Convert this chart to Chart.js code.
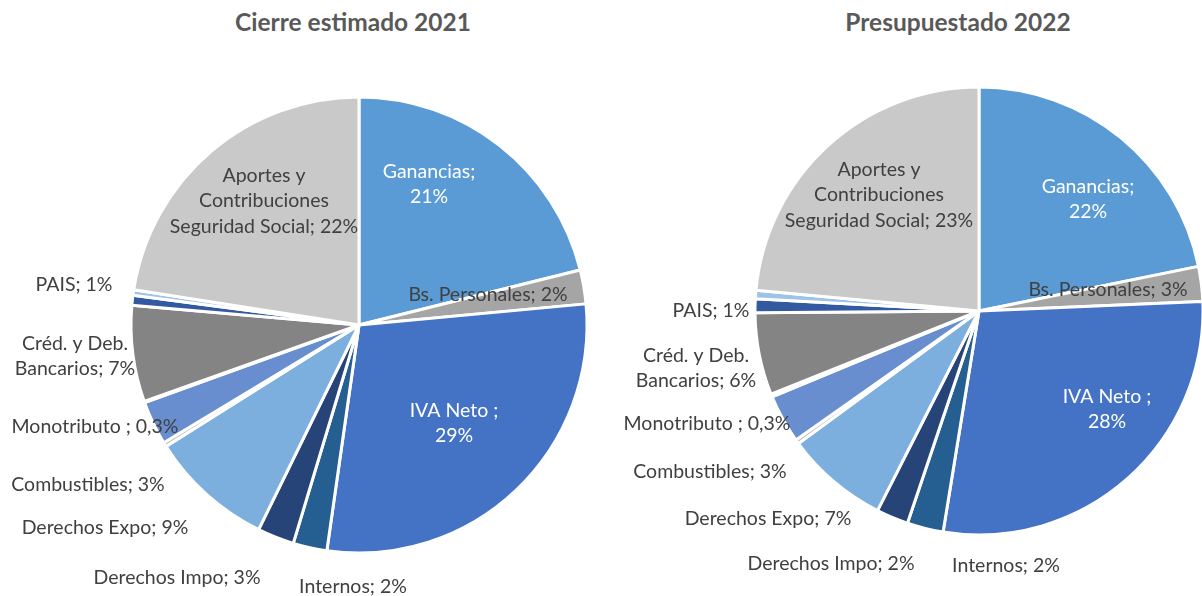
<!DOCTYPE html>
<html><head><meta charset="utf-8">
<script src="https://cdn.jsdelivr.net/npm/chart.js@4"></script>
<style>
html,body{margin:0;padding:0;background:#fff;}
#wrap{position:relative;width:1202px;height:596px;overflow:hidden;}
canvas{position:absolute;top:0;}
.title{position:absolute;top:0;font-family:Lato,"Open Sans",sans-serif;font-weight:bold;font-size:24.5px;color:#595959;white-space:nowrap;transform:translateX(-50%);line-height:44px;}
</style></head>
<body><div id="wrap">
<div class="title" style="left:353px">Cierre estimado 2021</div>
<div class="title" style="left:958px">Presupuestado 2022</div>
<canvas id="c1" width="601" height="596" style="left:0"></canvas>
<canvas id="c2" width="601" height="596" style="left:601px"></canvas>
</div>
<script>
// ---- data ----
const categories = ['Ganancias','Bs. Personales','IVA Neto ','Internos','Derechos Impo','Derechos Expo','Monotributo ','Combustibles','Otros','Créd. y Deb. Bancarios','PAIS','Otros 2','Aportes y Contribuciones Seguridad Social'];
const values2021 = [21.1, 2.4, 28.7, 2.4, 2.6, 8.8, 0.3, 3.1, 0.1, 6.8, 0.7, 0.4, 22.5];
const values2022 = [21.7, 2.5, 28.1, 2.6, 2.3, 7.4, 0.3, 3.5, 0.2, 5.9, 1.0, 0.6, 23.4];
const pctLabels2021 = ['21%','2%','29%','2%','3%','9%','0,3%','3%','','7%','1%','','22%'];
const pctLabels2022 = ['22%','3%','28%','2%','2%','7%','0,3%','3%','','6%','1%','','23%'];

// ---- styles / layout ----
const sliceColors = ['#5B9BD5','#A5A5A5','#4472C4','#255E91','#264478','#7CAFDD','#B7B7B7','#698ED0','#A9C4EB','#848484','#335AA1','#9DC3E6','#C9C9C9'];
const labelColors = ['#FFFFFF','#404040','#FFFFFF','#404040','#404040','#404040','#404040','#404040','#404040','#404040','#404040','#404040','#404040'];
const labelBreaks = [[1,1],null,[3,1],null,null,null,null,null,null,[3,2],null,null,[2,1,3]];
// label block centre, relative to the pie centre (px)
const labelOffsets2021 = [[70,-141],[129,-30],[95,98],[-6,262],[-182,253],[-254,203],[-264,102],[-271,160],null,[-284,31],[-285,-40],null,[-95,-124]];
const labelOffsets2022 = [[109,-112],[129,-21],[128,98],[27,255],[-148,253],[-211,208],[-272,113],[-269,161],null,[-283,57],[-268,0],null,[-100,-116]];

const FONT = 'Lato, "Open Sans", sans-serif';

const sliceLabels = {
  id: 'sliceLabels',
  afterDatasetsDraw(chart, args, opts) {
    const ctx = chart.ctx;
    const meta = chart.getDatasetMeta(0);
    ctx.save();
    ctx.font = opts.size + 'px ' + FONT;
    ctx.textAlign = 'center';
    ctx.textBaseline = 'middle';
    meta.data.forEach((arc, i) => {
      const pct = opts.pct[i];
      const off = opts.offsets[i];
      if (!pct || !off) return;
      const words = (chart.data.labels[i] + '; ' + pct).split(' ').filter(w => w.length);
      const br = labelBreaks[i] || [words.length];
      const lines = [];
      let k = 0;
      br.forEach(n => { lines.push(words.slice(k, k + n).join(' ')); k += n; });
      const cx = arc.x + off[0], cy = arc.y + off[1];
      ctx.fillStyle = labelColors[i];
      lines.forEach((ln, j) => ctx.fillText(ln, cx, cy + (j - (lines.length - 1) / 2) * opts.lineHeight));
    });
    ctx.restore();
  }
};

function makePie(id, values, pct, offsets, radius, padding) {
  return new Chart(document.getElementById(id), {
    type: 'pie',
    data: {
      labels: categories,
      datasets: [{ data: values, backgroundColor: sliceColors, borderColor: '#FFFFFF', borderWidth: 3 }]
    },
    options: {
      responsive: false,
      animation: false,
      devicePixelRatio: 1,
      radius: radius,
      layout: { padding: padding },
      plugins: {
        legend: { display: false },
        tooltip: { enabled: false },
        sliceLabels: { pct: pct, offsets: offsets, size: 19.5, lineHeight: 25.5 }
      }
    },
    plugins: [sliceLabels]
  });
}

makePie('c1', values2021, pctLabels2021, labelOffsets2021, 228, { left: 117, right: 0, top: 54, bottom: 0 });
makePie('c2', values2022, pctLabels2022, labelOffsets2022, 224, { left: 155, right: 0, top: 26, bottom: 0 });
</script>
</body></html>
